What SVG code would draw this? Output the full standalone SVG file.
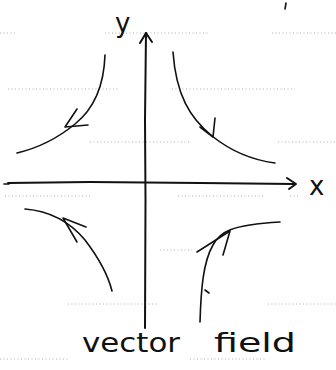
<svg xmlns="http://www.w3.org/2000/svg" width="336" height="370" viewBox="0 0 336 370">
<style>
.rule{stroke:#9a9a9a;stroke-width:0.8;stroke-dasharray:1 2.5;fill:none}
.ink{stroke:#111;stroke-width:1.6;fill:none;stroke-linecap:round;stroke-linejoin:round}
.axis{stroke:#111;stroke-width:2;fill:none;stroke-linecap:round;stroke-linejoin:round}
.hand{font-family:"DejaVu Sans",sans-serif;font-size:26px;fill:#111}
</style>
<rect width="336" height="370" fill="#fff"/>
<g id="rules">
<path class="rule" d="M0 33H16M105 33H210M272 33H336"/>
<path class="rule" d="M8 89H120M172 89H295"/>
<path class="rule" d="M90 142H190M278 142H336"/>
<path class="rule" d="M5 196H90M178 196H265M290 196H300"/>
<path class="rule" d="M160 250H192"/>
<path class="rule" d="M68 304H158M268 304H336"/>
<path class="rule" d="M0 359H70M190 359H265"/>
</g>
<g id="connectors">
<g id="y-axis">
<path class="axis" d="M146 33 L145 120 L145.5 200 L145 328"/>
<path class="axis" d="M140 43 L146 33 L152 42"/>
</g>
<g id="x-axis">
<path class="axis" d="M8 183 L90 182 L200 183 L294 184"/>
<path class="axis" d="M287 178 L296 184 L289 189"/>
<path class="ink" d="M4 184H9"/>
</g>
<g id="flow-top-left">
<path class="ink" d="M105 55 C104 85 95 108 75 124 C58 138 38 148 17 153"/>
<path class="ink" d="M77 109 L65 127 L88 125"/>
</g>
<g id="flow-top-right">
<path class="ink" d="M173 52 C176 95 190 118 212 136 C232 152 252 160 275 163"/>
<path class="ink" d="M215 118 L213 137 L200 127"/>
</g>
<g id="flow-bottom-left">
<path class="ink" d="M25 209 C50 211 70 222 85 240 C98 257 108 275 112 291"/>
<path class="ink" d="M86 227 L63 218 L77 242"/>
</g>
<g id="flow-bottom-right">
<path class="ink" d="M200 322 C201 290 203 262 213 245 C220 232 230 225 280 222"/>
<path class="ink" d="M197 252 L230 231 L223 255"/>
<path class="ink" d="M205 290 L209 293"/>
</g>
</g>
<g id="labels">
<text class="hand" x="115" y="32" font-size="22">y</text>
<text class="hand" x="309" y="195" font-size="24">x</text>
<text class="hand" x="82" y="352" textLength="98" lengthAdjust="spacingAndGlyphs">vector</text>
<text class="hand" x="214" y="352" font-size="28" textLength="82" lengthAdjust="spacingAndGlyphs">field</text>
<path class="ink" d="M286 3 L285 9" stroke-width="1.2"/>
</g>
</svg>
